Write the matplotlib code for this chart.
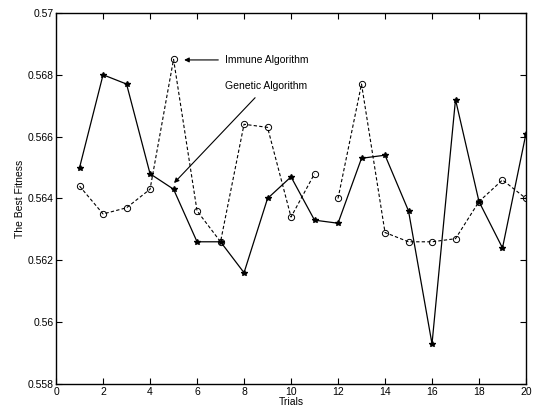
import matplotlib
matplotlib.use('Agg')
import matplotlib.pyplot as plt
import numpy as np

plt.rcParams['font.family'] = ['Liberation Sans', 'DejaVu Sans']

#~~~~~~~~~~
# DATA
#~~~~~~~~~~

trials = np.arange(1, 21)

genetic = [0.5650, 0.5680, 0.5677, 0.5648, 0.5643, 0.5626, 0.5626, 0.5616, 0.5640, 0.5647,
           0.5633, 0.5632, 0.5653, 0.5654, 0.5636, 0.5593, 0.5672, 0.5639, 0.5624, 0.5661]

immune = [0.5644, 0.5635, 0.5637, 0.5643, 0.5685, 0.5636, 0.5626, 0.5664, 0.5663, 0.5634,
          0.5648, 0.5640, 0.5677, 0.5629, 0.5626, 0.5626, 0.5627, 0.5639, 0.5646, 0.5640]

# the immune curve is broken between trial 11 and 12
immune_break = 11

xticks = np.arange(0, 21, 2)
yticks = [0.558, 0.56, 0.562, 0.564, 0.566, 0.568, 0.57]
ytick_labels = ['0.558', '0.56', '0.562', '0.564', '0.566', '0.568', '0.57']

#~~~~~~~~~~
# PLOTTING
#~~~~~~~~~~

fig = plt.figure(figsize=(5.34, 4.17), dpi=100)
ax = fig.add_axes([0.105, 0.079, 0.880, 0.890])

ax.plot(trials, genetic, color='black', lw=0.9, marker='*', ms=4, mfc='black', mec='black')

ax.plot(trials[:immune_break], immune[:immune_break], color='black', lw=0.8,
        linestyle=(0, (3, 2)), marker='o', ms=4.5, mfc='none', mec='black', mew=0.7)
ax.plot(trials[immune_break:], immune[immune_break:], color='black', lw=0.8,
        linestyle=(0, (3, 2)), marker='o', ms=4.5, mfc='none', mec='black', mew=0.7)

ax.annotate('Immune Algorithm', xy=(5.45, 0.56848), xytext=(7.2, 0.56848),
            fontsize=7.5, va='center', ha='left',
            arrowprops=dict(arrowstyle='-|>', color='black', lw=0.8,
                            mutation_scale=7, shrinkA=3, shrinkB=0))
ax.annotate('Genetic Algorithm', xy=(5.02, 0.5645), xytext=(7.2, 0.56764),
            fontsize=7.5, va='center', ha='left',
            arrowprops=dict(arrowstyle='-|>', color='black', lw=0.8,
                            mutation_scale=7, shrinkA=4, shrinkB=0))

ax.set_xlim(0, 20)
ax.set_ylim(0.558, 0.57)
ax.set_xticks(xticks)
ax.set_yticks(yticks)
ax.set_yticklabels(ytick_labels)
ax.tick_params(direction='in', top=True, right=True, labelsize=7.5, length=4, width=0.8, pad=2)
for sp in ax.spines.values():
    sp.set_linewidth(1.0)

ax.set_xlabel('Trials', fontsize=7.5, labelpad=0)
ax.set_ylabel('The Best Fitness', fontsize=7.5, labelpad=2)

plt.savefig('out.png', dpi=100)
